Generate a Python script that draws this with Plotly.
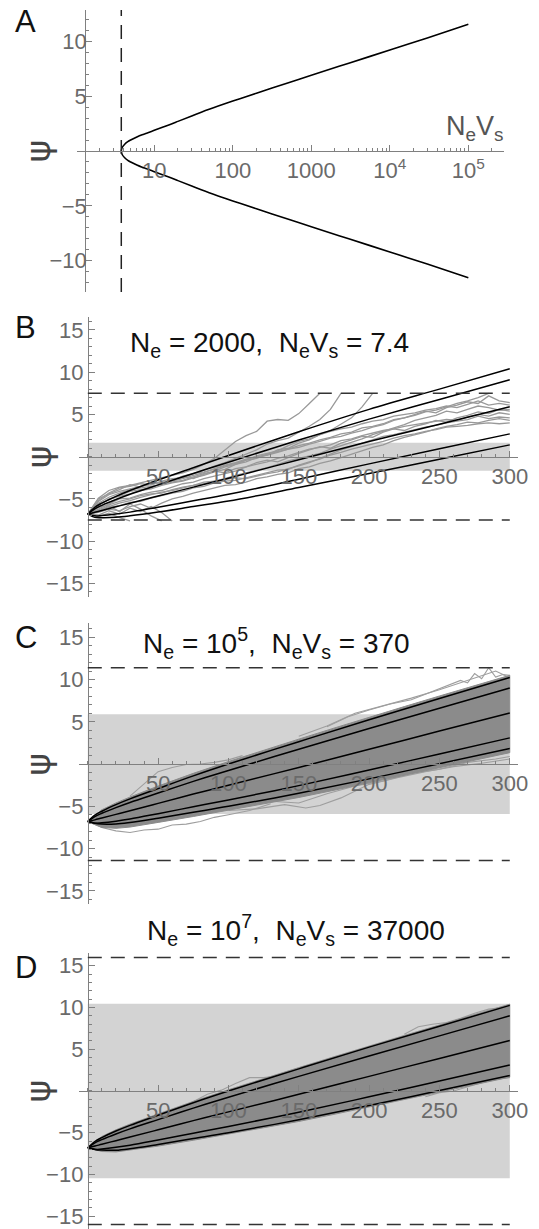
import plotly.graph_objects as go
import math

# ---------------- data ----------------
# Panel A: psi versus NeVs (log x)
nevs_A = [3.8, 3.9, 4.2, 4.6, 5, 6, 7, 8, 10, 15, 20, 30, 50, 100, 200, 500, 1000, 3000, 1e4, 3e4, 1e5]
psi_A_upper = [0, 0.32, 0.62, 0.85, 1.0, 1.28, 1.48, 1.62, 1.88, 2.35, 2.7, 3.2, 3.8, 4.55, 5.27, 6.2, 6.9, 8.0, 9.2, 10.3, 11.55]
psi_A_lower = [0, -0.32, -0.62, -0.85, -1.0, -1.28, -1.48, -1.62, -1.88, -2.35, -2.7, -3.2, -3.8, -4.55, -5.27, -6.2, -6.9, -8.0, -9.2, -10.3, -11.55]
nevs_A_threshold = 3.8
A_xticks = [10, 100, 1000, 1e4, 1e5]
A_xticktext = ["10", "100", "1000", "10<sup>4</sup>", "10<sup>5</sup>"]
A_xminor = [2, 3, 4, 5, 6, 7, 8, 9, 20, 30, 40, 50, 60, 70, 80, 90, 200, 300, 400, 500, 600, 700, 800, 900,
            2000, 3000, 4000, 5000, 6000, 7000, 8000, 9000, 2e4, 3e4, 4e4, 5e4, 6e4, 7e4, 8e4, 9e4, 2e5, 3e5]
A_yticks = [-10, -5, 5, 10]

# Panels B-D: theoretical quantile lines
t_lines = [0, 5, 10, 20, 30, 50, 75, 100, 150, 200, 250, 300]
B_lines = [
    [-6.8, -5.98, -5.5, -4.69, -4.0, -2.75, -1.3, 0.15, 2.95, 5.6, 8.0, 10.4],
    [-6.8, -6.16, -5.76, -5.07, -4.44, -3.33, -1.98, -0.65, 1.97, 4.45, 6.77, 9.1],
    [-6.8, -6.58, -6.36, -5.93, -5.5, -4.65, -3.6, -2.55, -0.35, 1.8, 3.85, 5.9],
    [-6.8, -7.0, -6.96, -6.79, -6.56, -5.97, -5.22, -4.45, -2.67, -0.85, 0.93, 2.7],
    [-6.8, -7.18, -7.22, -7.17, -7.0, -6.55, -5.9, -5.25, -3.65, -2.0, -0.3, 1.4],
]
CD_lines = [
    [-6.8, -6.05, -5.58, -4.8, -4.12, -2.9, -1.4, 0.0, 2.65, 5.25, 7.75, 10.25],
    [-6.8, -6.21, -5.82, -5.15, -4.54, -3.43, -2.05, -0.75, 1.75, 4.2, 6.6, 9.0],
    [-6.8, -6.6, -6.38, -5.95, -5.52, -4.65, -3.55, -2.5, -0.4, 1.75, 3.9, 6.05],
    [-6.8, -6.99, -6.94, -6.75, -6.5, -5.87, -5.05, -4.25, -2.55, -0.7, 1.2, 3.1],
    [-6.8, -7.0, -7.08, -7.1, -6.92, -6.4, -5.7, -5.0, -3.45, -1.75, 0.05, 1.85],
]

# Panel B: simulated trajectories (time grid step 7.5)
t_B = [7.5 * i for i in range(41)]
B_traj = [
    [-6.8, -4.9, -4.0, -3.6, -3.4, -3.1, -2.8, -2.5, -2.2, -1.9, -1.5, -0.9, -0.2, 0.8, 1.8, 2.5, 3.0, 4.2, 4.4, 4.3, 5.1, 6.3, 7.5],
    [-6.8, -5.3, -4.5, -4.1, -3.8, -3.5, -3.3, -3.0, -2.8, -2.3, -2.0, -1.6, -1.1, -0.7, -0.2, 0.3, 0.8, 1.5, 1.9, 2.2, 2.9, 3.6, 4.4, 5.6, 7.5],
    [-6.8, -5.8, -5.0, -4.7, -4.4, -4.0, -3.8, -3.4, -3.1, -2.9, -2.5, -2.2, -1.8, -1.5, -0.9, -0.6, -0.1, 0.2, 0.8, 1.0, 1.6, 2.0, 2.6, 3.1, 3.8, 4.6, 5.9, 7.5],
    [-6.8, -5.6, -5.1, -4.6, -4.1, -3.9, -3.7, -3.2, -3.0, -2.8, -2.4, -2.0, -1.7, -1.2, -0.9, -0.4, -0.2, 0.3, 0.6, 0.9, 1.3, 1.6, 2.0, 2.3, 2.7, 2.9, 3.4, 3.6, 3.9, 4.4, 4.6, 5.0, 5.4, 5.2, 5.8, 6.1, 6.5, 6.3, 7.2, 6.6, 6.4],
    [-6.8, -6.2, -5.6, -5.0, -4.9, -4.5, -4.2, -4.0, -3.6, -3.2, -3.0, -2.6, -2.3, -2.0, -1.7, -1.2, -0.9, -0.6, -0.2, 0.1, 0.5, 0.9, 1.1, 1.4, 1.9, 2.1, 2.5, 2.8, 3.1, 3.3, 3.6, 3.8, 4.0, 4.2, 4.4, 4.3, 4.7, 5.0, 4.8, 5.2, 5.0],
    [-6.8, -6.5, -6.0, -5.8, -5.4, -5.3, -4.9, -4.6, -4.3, -4.1, -3.7, -3.5, -3.1, -2.9, -2.8, -2.5, -2.2, -1.9, -1.6, -1.5, -1.0, -0.6, -0.3, 0.2, 0.5, 0.9, 1.2, 1.5, 1.8, 2.2, 2.5, 2.7, 3.0, 3.2, 3.5, 3.6, 3.7, 3.9, 4.0, 3.9, 4.0],
    [-6.8, -6.0, -5.7, -5.3, -5.0, -4.6, -4.4, -4.3, -3.9, -3.6, -3.4, -3.0, -2.9, -2.7, -2.5, -2.6, -2.3, -2.0, -1.8, -1.4, -1.1, -0.7, -0.2, 0.3, 0.8, 1.2, 1.6, 2.0, 2.4, 2.6, 2.9, 3.2, 3.5, 3.7, 4.0, 4.2, 4.4, 4.8, 4.5, 4.7, 4.6],
    [-6.8, -5.5, -4.8, -4.3, -3.9, -3.7, -3.5, -3.3, -2.9, -2.6, -2.2, -1.9, -1.4, -1.0, -0.7, -0.3, 0.0, 0.2, 0.5, 0.9, 1.1, 1.5, 1.8, 2.2, 2.4, 2.8, 3.1, 3.5, 3.8, 4.3, 4.6, 4.9, 5.3, 5.5, 5.9, 6.3, 6.6, 7.0, 7.5],
    [-6.8, -6.4, -5.9, -5.5, -5.2, -4.8, -4.5, -4.2, -4.0, -3.7, -3.4, -3.2, -2.9, -2.6, -2.2, -1.9, -1.6, -1.3, -0.9, -0.5, -0.2, 0.1, 0.4, 0.9, 1.3, 1.7, 2.1, 2.6, 3.0, 3.4, 3.8, 4.3, 4.6, 4.9, 5.4, 5.2, 5.6, 6.0, 5.8, 5.5, 5.6],
    [-6.8, -6.9, -6.4, -6.8, -6.1, -6.5, -5.9, -6.6, -7.6],
    [-6.8, -7.1, -6.7, -7.2, -7.6],
    [-6.8, -6.3, -5.8, -6.5, -5.6, -6.2, -7.0, -7.6],
    [-6.8, -5.2, -4.3, -3.7, -3.5, -3.2, -3.3, -2.9, -2.6, -2.5, -2.0, -1.8, -1.5, -1.1, -0.8, -0.4, 0.1, 0.4, 0.7, 1.3, 1.8, 2.1, 2.6, 3.0, 3.3, 3.5, 3.9, 4.2, 4.4, 4.8, 5.0, 5.2, 5.5, 5.7, 6.0, 5.8, 6.2, 6.6, 6.1, 6.3, 6.1],
    [-6.8, -5.0, -4.4, -3.9, -3.3, -3.6, -3.0, -3.2, -2.7, -2.4, -2.6, -2.1, -1.7, -1.9, -1.4, -1.2, -0.7, -0.4, -0.6, -0.1, 0.4, 0.8, 1.2, 1.0, 1.6, 2.0, 2.4, 2.3, 2.9, 3.3, 3.1, 3.6, 3.9, 4.3, 4.1, 4.6, 4.9, 5.3, 5.1, 5.6, 5.4],
    [-6.8, -6.6, -6.2, -6.4, -5.9, -5.6, -6.1, -5.5, -5.0, -4.7, -4.3, -4.0, -3.7, -3.4, -3.3, -3.0, -2.6, -2.4, -2.1, -1.9, -1.4, -1.2, -0.8, -0.5, -0.1, 0.3, 0.7, 1.1, 1.4, 1.9, 2.3, 2.6, 2.9, 3.3, 3.6, 3.8, 4.1, 4.0, 4.3, 4.5, 4.3],
]

# Panels C, D: envelope of the dense bundle of trajectories + visible outliers
t_env = [0, 10, 20, 30, 50, 75, 100, 125, 150, 175, 200, 225, 250, 275, 300]
C_env_upper = [-6.8, -5.4, -4.6, -3.9, -2.6, -1.1, 0.3, 1.65, 2.95, 4.25, 5.55, 6.8, 8.05, 9.3, 10.5]
C_env_lower = [-6.8, -7.5, -7.6, -7.45, -6.9, -6.2, -5.5, -4.7, -3.95, -3.1, -2.25, -1.35, -0.45, 0.45, 1.35]
D_env_upper = [-6.8, -5.45, -4.65, -3.97, -2.75, -1.25, 0.15, 1.5, 2.8, 4.1, 5.4, 6.65, 7.9, 9.15, 10.4]
D_env_lower = [-6.8, -7.25, -7.3, -7.12, -6.6, -5.9, -5.2, -4.4, -3.65, -2.8, -1.95, -1.05, -0.15, 0.75, 1.65]
C_outliers = [
    ([30, 40, 50, 60, 70, 80, 90, 100, 110], [-3.8, -2.3, -0.9, -0.4, -0.05, 0.0, 0.2, 0.5, 1.0]),
    ([170, 185, 200, 215, 230, 245, 255, 265, 270, 275, 280, 285, 290, 295, 300],
     [4.4, 5.6, 6.4, 7.1, 7.6, 8.6, 9.2, 9.9, 9.6, 10.7, 10.1, 11.4, 10.3, 10.6, 10.5]),
    ([150, 170, 190, 210, 230, 250, 265, 280, 290, 300], [3.3, 4.5, 6.0, 6.9, 7.8, 8.8, 9.6, 10.4, 11.0, 10.2]),
    ([0, 10, 20, 30, 40, 50, 60, 70, 80, 90, 100, 115, 130],
     [-6.8, -7.5, -7.9, -8.1, -7.8, -7.7, -7.2, -7.1, -6.8, -6.3, -6.0, -5.5, -4.7]),
    ([100, 120, 140, 155, 165, 180, 200, 220, 240, 260, 280, 300],
     [-5.5, -5.3, -4.8, -5.2, -4.9, -4.0, -2.4, -1.6, -0.9, -0.3, 0.1, 0.6]),
    ([130, 150, 170, 190, 210, 230, 250, 270, 290, 300], [-4.4, -4.6, -3.5, -2.6, -2.0, -1.1, -0.6, 0.2, 0.6, 0.9]),
]
D_outliers = [
    ([70, 85, 95, 105, 115, 125, 135], [-1.7, -0.4, 0.1, 0.9, 1.6, 1.6, 1.8]),
    ([225, 235, 245, 255, 265, 275, 285, 295, 300], [6.8, 7.7, 8.0, 8.2, 8.7, 9.3, 9.8, 10.0, 10.3]),
    ([240, 250, 260, 270, 280, 290, 300], [-0.7, -0.2, 0.0, 0.5, 1.0, 1.4, 1.6]),
]

# absorbing boundaries (dashed) and optimum band (shaded) per panel
bound = {"B": 7.5, "C": 11.4, "D": 16.0}
band = {"B": 1.65, "C": 5.9, "D": 10.45}
t_span = [0, 300]
BCD_xticks = [50, 100, 150, 200, 250, 300]
BCD_yticks = [-15, -10, -5, 5, 10, 15]

titles = {
    "B": "N<sub>e</sub> = 2000,\u00a0\u00a0N<sub>e</sub>V<sub>s</sub> = 7.4",
    "C": "N<sub>e</sub> = 10<sup>5</sup>,\u00a0\u00a0N<sub>e</sub>V<sub>s</sub> = 370",
    "D": "N<sub>e</sub> = 10<sup>7</sup>,\u00a0\u00a0N<sub>e</sub>V<sub>s</sub> = 37000",
}

# ---------------- layout helpers ----------------
W, H = 539, 1229
FONT = "Liberation Sans, Arial, sans-serif"
AX = "#808080"
TICKFONT = dict(family=FONT, size=22, color="#6a6a6a")


def fx(px):
    return px / W


def fy(py):
    return 1 - py / H


fig = go.Figure()

# ----- Panel A -----
A_xr = [0.01, 5.46]
A_yr = [-12.85, 12.85]
A_xd = [fx(78), fx(514)]
A_yd = [fy(292), fy(10)]
A_ycross = 1.32

fig.add_trace(go.Scatter(x=nevs_A, y=psi_A_upper, mode="lines", line=dict(color="black", width=1.6, shape="spline"),
                         xaxis="x", yaxis="y", showlegend=False))
fig.add_trace(go.Scatter(x=nevs_A, y=psi_A_lower, mode="lines", line=dict(color="black", width=1.6, shape="spline"),
                         xaxis="x", yaxis="y", showlegend=False))
fig.add_trace(go.Scatter(x=[nevs_A_threshold, nevs_A_threshold], y=A_yr, mode="lines",
                         line=dict(color="#222", width=1.5, dash="14px,9px"), xaxis="x", yaxis="y", showlegend=False))

A_ypos = A_xd[0] + (math.log10(A_ycross) - A_xr[0]) / (A_xr[1] - A_xr[0]) * (A_xd[1] - A_xd[0])
A_xpos = A_yd[0] + (0 - A_yr[0]) / (A_yr[1] - A_yr[0]) * (A_yd[1] - A_yd[0])

common_ax = dict(showgrid=False, zeroline=False, showline=True, linecolor=AX, linewidth=1,
                 ticks="inside", ticklen=6, tickwidth=1, tickcolor=AX, tickfont=TICKFONT,
                 ticklabeloverflow="allow")

fig.update_layout(
    xaxis=dict(type="log", range=A_xr, domain=A_xd, anchor="free", position=A_xpos,
               tickmode="array", tickvals=A_xticks, ticktext=A_xticktext,
               minor=dict(tickmode="array", tickvals=A_xminor, ticks="inside", ticklen=3, tickcolor=AX, tickwidth=1),
               **common_ax),
    yaxis=dict(range=A_yr, domain=A_yd, anchor="free", position=A_ypos,
               tickmode="array", tickvals=A_yticks, ticklabelstandoff=-6,
               minor=dict(dtick=1, tick0=0, ticks="inside", ticklen=3, tickcolor=AX, tickwidth=1),
               **common_ax),
)

# ----- Panels B, C, D -----
BCD_xr = [-6.6, 306]
BCD_xd = [fx(80), fx(528)]
panel_geo = {
    "B": dict(yd=[fy(596.7), fy(316.7)], yr=[-16.57, 16.57], n=2),
    "C": dict(yd=[fy(904), fy(623.3)], yr=[-16.55, 16.65], n=3),
    "D": dict(yd=[0.0, fy(953.3)], yr=[-16.53, 16.49], n=4),
}

shapes = []
for key, g in panel_geo.items():
    n = g["n"]
    xa, ya = f"x{n}", f"y{n}"
    shapes.append(dict(type="rect", xref=xa, yref=ya, x0=t_span[0], x1=t_span[1], y0=-band[key], y1=band[key],
                       fillcolor="#d3d3d3", line=dict(width=0), layer="below"))
    for s in (1, -1):
        shapes.append(dict(type="line", xref=xa, yref=ya, x0=t_span[0], x1=t_span[1], y0=s * bound[key], y1=s * bound[key],
                           line=dict(color="#333", width=1.5, dash="14px,9px"), layer="above"))

    if key == "B":
        for tr in B_traj:
            fig.add_trace(go.Scatter(x=t_B[:len(tr)], y=tr, mode="lines", line=dict(color="#999999", width=1.3),
                                     xaxis=xa, yaxis=ya, showlegend=False))
        lines = B_lines
    else:
        up = C_env_upper if key == "C" else D_env_upper
        lo = C_env_lower if key == "C" else D_env_lower
        outs = C_outliers if key == "C" else D_outliers
        for ox, oy in outs:
            fig.add_trace(go.Scatter(x=ox, y=oy, mode="lines", line=dict(color="#9e9e9e", width=1.1),
                                     xaxis=xa, yaxis=ya, showlegend=False))
        fig.add_trace(go.Scatter(x=t_env + t_env[::-1], y=up + lo[::-1], mode="lines", fill="toself",
                                 fillcolor="#8b8b8b", line=dict(color="#8b8b8b", width=1),
                                 xaxis=xa, yaxis=ya, showlegend=False))
        lines = CD_lines
    for ln in lines:
        fig.add_trace(go.Scatter(x=t_lines, y=ln, mode="lines", line=dict(color="black", width=1.5, shape="spline"),
                                 xaxis=xa, yaxis=ya, showlegend=False))

    ypos_axis = BCD_xd[0] + (0 - BCD_xr[0]) / (BCD_xr[1] - BCD_xr[0]) * (BCD_xd[1] - BCD_xd[0])
    xpos_axis = g["yd"][0] + (0 - g["yr"][0]) / (g["yr"][1] - g["yr"][0]) * (g["yd"][1] - g["yd"][0])
    fig.layout[f"xaxis{n}"] = dict(range=BCD_xr, domain=BCD_xd, anchor="free", position=xpos_axis,
                                   tickmode="array", tickvals=BCD_xticks,
                                   minor=dict(dtick=10, tick0=0, ticks="inside", ticklen=3, tickcolor=AX, tickwidth=1),
                                   **common_ax)
    fig.layout[f"yaxis{n}"] = dict(range=g["yr"], domain=g["yd"], anchor="free", position=ypos_axis,
                                   tickmode="array", tickvals=BCD_yticks,
                                   minor=dict(dtick=1, tick0=0, ticks="inside", ticklen=3, tickcolor=AX, tickwidth=1),
                                   **common_ax)

# ----- annotations -----
ann = []
letters = [("A", 26, 21), ("B", 26, 328), ("C", 27, 637), ("D", 27, 967)]
for txt, px, py in letters:
    ann.append(dict(text=txt, x=fx(px), y=fy(py), xref="paper", yref="paper", showarrow=False,
                    xanchor="center", yanchor="middle", font=dict(family=FONT, size=31, color="#111")))
for py in (151, 456.7, 764.3, 1091):
    ann.append(dict(text="ψ", x=fx(39), y=fy(py), xref="paper", yref="paper", showarrow=False, textangle=-90,
                    xanchor="center", yanchor="middle", font=dict(family="DejaVu Sans", size=34, color="#444")))
ann.append(dict(text="N<sub>e</sub>V<sub>s</sub>", x=fx(515), y=fy(128), xref="paper", yref="paper", showarrow=False,
                xanchor="right", yanchor="middle", font=dict(family=FONT, size=27, color="#555")))
for key, px, py in (("B", 275, 345), ("C", 282, 643), ("D", 302, 930)):
    ann.append(dict(text=titles[key], x=fx(px), y=fy(py), xref="paper", yref="paper", showarrow=False,
                    xanchor="center", yanchor="middle", font=dict(family=FONT, size=28, color="#111")))

fig.update_layout(
    width=W, height=H, margin=dict(l=0, r=0, t=0, b=0),
    paper_bgcolor="white", plot_bgcolor="rgba(0,0,0,0)",
    shapes=shapes, annotations=ann, showlegend=False,
)

fig.write_html("out.html", config={"displayModeBar": False},
               post_script="document.body.style.margin='0';document.body.style.overflow='hidden';")
